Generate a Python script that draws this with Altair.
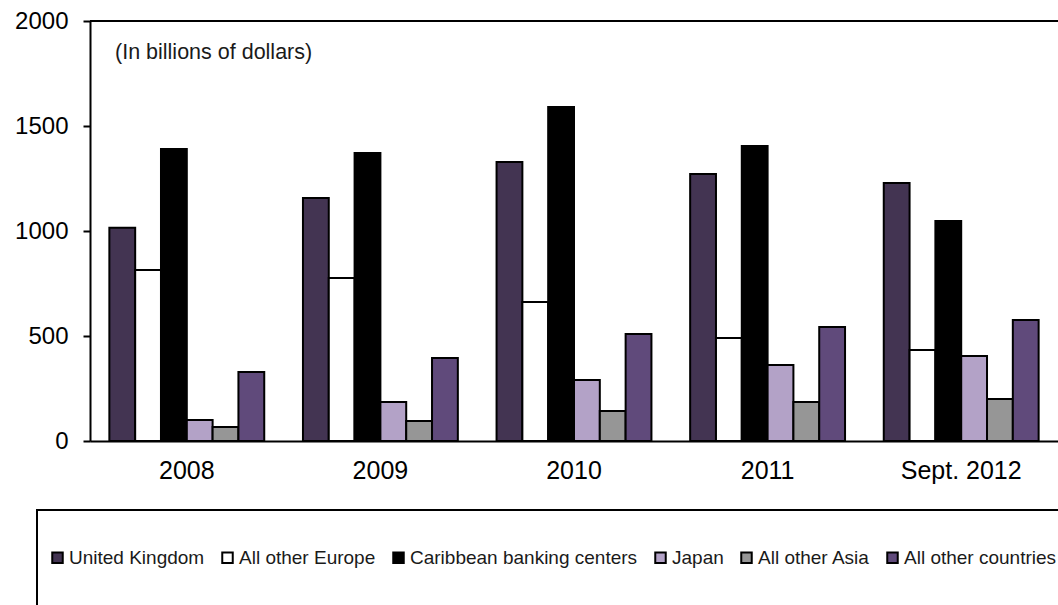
import altair as alt
import pandas as pd

years = ["2008", "2009", "2010", "2011", "Sept. 2012"]
series = ["United Kingdom", "All other Europe", "Caribbean banking centers",
          "Japan", "All other Asia", "All other countries"]
colors = ["#433452", "#ffffff", "#000000", "#b3a2c7", "#969696", "#604a7b"]

uk = [1015, 1157, 1329, 1271, 1229]
europe = [814, 776, 662, 490, 433]
carib = [1390, 1371, 1590, 1405, 1048]
japan = [100, 186, 290, 362, 405]
asia = [67, 95, 143, 186, 200]
other = [329, 395, 510, 543, 576]

y_ticks = [0, 500, 1000, 1500, 2000]
note = "(In billions of dollars)"

vals = [uk, europe, carib, japan, asia, other]
rows = []
for s, v in zip(series, vals):
    for yr, val in zip(years, v):
        rows.append({"year": yr, "series": s, "value": val})
df = pd.DataFrame(rows)

FONT = "Liberation Sans"

bars = alt.Chart(df).mark_bar(stroke="black", strokeWidth=2).encode(
    x=alt.X("year:N", sort=years, title=None,
            scale=alt.Scale(paddingInner=0.2, paddingOuter=0.1),
            axis=alt.Axis(labelFontSize=25, labelFont=FONT, labelColor="black",
                          labelAngle=0, ticks=False, labelPadding=17,
                          domainColor="black", domainWidth=2)),
    xOffset=alt.XOffset("series:N", sort=series,
                        scale=alt.Scale(paddingInner=0, paddingOuter=0)),
    y=alt.Y("value:Q", title=None,
            scale=alt.Scale(domain=[0, 2000], nice=False),
            axis=alt.Axis(values=y_ticks, format="d", grid=False, labelFontSize=24,
                          labelFont=FONT, labelColor="black", tickSize=7,
                          tickWidth=2, tickColor="black", labelPadding=15,
                          domainColor="black", domainWidth=2)),
    color=alt.Color("series:N", sort=series,
                    scale=alt.Scale(domain=series, range=colors),
                    legend=alt.Legend(orient="none", legendX=-42, legendY=527,
                                      direction="horizontal", title=None,
                                      padding=0,
                                      symbolType="square", symbolSize=110,
                                      symbolStrokeColor="black",
                                      symbolStrokeWidth=2,
                                      symbolOpacity=1,
                                      labelFont=FONT, labelFontSize=19,
                                      labelColor="#1a1a1a",
                                      labelOffset=2, columnPadding=13,
                                      labelLimit=400)),
)

top = alt.Chart(pd.DataFrame({"v": [2000]})).mark_rule(
    color="black", strokeWidth=2).encode(y=alt.Y("v:Q"))

text = alt.Chart(pd.DataFrame({"t": [note]})).mark_text(
    align="left", baseline="middle", font=FONT, fontSize=21.5, color="#1a1a1a"
).encode(x=alt.value(25), y=alt.value(32), text="t:N")

box = alt.Chart(pd.DataFrame({"b": [1]})).mark_rect(
    fill=None, stroke="black", strokeWidth=2, clip=False
).encode(x=alt.value(-53), x2=alt.value(1010), y=alt.value(489), y2=alt.value(640))

chart = alt.layer(bars, top, text, box).properties(
    width=968, height=420,
    autosize=alt.AutoSizeParams(type="none"),
    padding={"left": 90, "top": 21, "right": 0, "bottom": 164},
).configure_view(stroke=None).configure(background="white")

chart.save("out.html", embed_options={"renderer": "svg", "actions": False})
